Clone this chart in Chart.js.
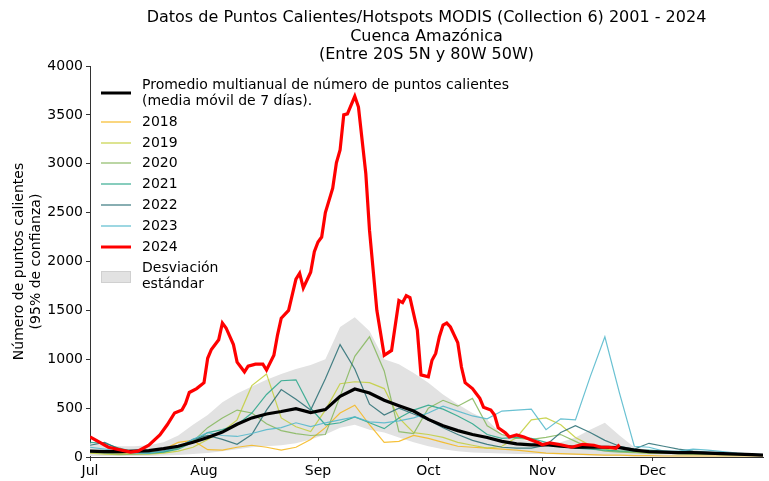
<!DOCTYPE html>
<html>
<head>
<meta charset="utf-8">
<script src="https://cdn.jsdelivr.net/npm/chart.js@4.4.1/dist/chart.umd.min.js"></script>
<style>
  html, body { margin: 0; padding: 0; background: #fff; }
  #wrap { width: 769px; height: 481px; }
</style>
</head>
<body>
<div id="wrap"><canvas id="chart" width="769" height="481"></canvas></div>
<script>
// days counted from 1 July
const monthDays = [0, 31, 62, 92, 123, 153];
const monthLabels = ['Jul', 'Aug', 'Sep', 'Oct', 'Nov', 'Dec'];

const dayGrid = [0, 4, 8, 12, 16, 20, 24, 28, 32, 36, 40, 44, 48, 52, 56, 60, 64, 68, 72, 76, 80, 84, 88, 92,
  96, 100, 104, 108, 112, 116, 120, 124, 128, 132, 136, 140, 144, 148, 152, 156, 160, 164, 168, 172, 176, 180, 183];

const meanHot = [60, 55, 55, 60, 65, 85, 110, 150, 200, 255, 335, 400, 440, 465, 495, 455, 485, 620, 695, 655, 580, 525, 470, 385,
  320, 270, 230, 200, 160, 135, 125, 125, 110, 100, 100, 100, 95, 70, 55, 50, 45, 45, 40, 35, 30, 25, 20];
const sdUpper = [140, 120, 110, 110, 120, 150, 220, 330, 430, 560, 650, 720, 790, 850, 900, 940, 1000, 1330, 1430, 1290, 1000, 950, 860, 760,
  640, 540, 450, 380, 230, 180, 160, 150, 150, 200, 280, 350, 220, 100, 70, 60, 50, 50, 45, 40, 35, 30, 25];
const sdLower = [10, 10, 10, 10, 10, 15, 20, 30, 40, 60, 80, 100, 110, 120, 140, 180, 230, 300, 330, 280, 250, 200, 150, 110,
  80, 60, 45, 40, 35, 30, 30, 30, 25, 20, 15, 10, 10, 5, 5, 5, 5, 5, 5, 5, 5, 5, 5];

const hot2018 = [60, 50, 40, 40, 50, 80, 150, 170, 75, 70, 100, 120, 100, 70, 100, 180, 300, 450, 530, 330, 150, 160, 220, 190,
  150, 110, 100, 90, 80, 70, 55, 40, 35, 30, 25, 20, 20, 15, 15, 10, 10, 10, 10, 10, 10, 10, 10];
const hot2019 = [40, 30, 25, 30, 30, 40, 60, 100, 180, 260, 380, 730, 850, 400, 310, 260, 480, 750, 770, 760, 700, 400, 250, 230,
  200, 150, 120, 90, 110, 200, 380, 400, 330, 200, 120, 80, 60, 50, 40, 40, 35, 30, 30, 25, 25, 20, 20];
const hot2020 = [50, 40, 30, 30, 35, 50, 90, 160, 300, 400, 480, 450, 340, 270, 240, 220, 230, 620, 1030, 1230, 880, 260, 240, 500,
  580, 520, 600, 320, 230, 190, 180, 200, 230, 160, 90, 60, 50, 45, 40, 40, 35, 30, 30, 25, 25, 20, 20];
const hot2021 = [150, 140, 90, 50, 40, 50, 80, 150, 250, 280, 330, 450, 640, 780, 790, 500, 330, 350, 410, 350, 290, 400, 480, 530,
  490, 420, 340, 230, 190, 200, 190, 150, 110, 90, 80, 70, 60, 60, 70, 60, 50, 40, 35, 30, 30, 25, 20];
const hot2022 = [120, 150, 80, 50, 45, 60, 100, 180, 220, 180, 130, 230, 480, 690, 590, 480, 800, 1150, 900, 540, 430, 500, 440, 380,
  300, 230, 170, 130, 100, 90, 90, 120, 250, 320, 250, 170, 110, 80, 140, 110, 80, 60, 50, 40, 30, 25, 20];
const hot2023 = [100, 80, 60, 40, 40, 60, 100, 180, 250, 220, 210, 240, 280, 300, 350, 310, 350, 380, 410, 360, 350, 370, 400, 450,
  520, 470, 420, 390, 470, 480, 490, 280, 390, 380, 820, 1230, 650, 110, 100, 60, 60, 80, 70, 55, 40, 30, 25];

const days2024 = [0, 5, 11, 13, 16, 19, 21, 23, 25, 26, 27, 29, 31, 32, 33, 35, 36, 37, 39, 40, 41, 42, 43, 45, 47, 48, 50, 51, 52,
  54, 56, 57, 58, 60, 61, 62, 63, 64, 66, 67, 68, 69, 70, 72, 73, 75, 76, 78, 80, 82, 84, 85, 86, 87, 89, 90, 92, 93, 94, 95, 96,
  97, 98, 100, 101, 102, 104, 105, 106, 107, 109, 110, 111, 113, 114, 116, 118, 120, 122, 123, 125, 128, 131, 134, 137, 139, 141, 143, 144];
const hot2024 = [205, 100, 50, 60, 120, 225, 330, 450, 480, 550, 660, 700, 760, 1010, 1100, 1200, 1370, 1320, 1150, 970, 920, 870, 930, 950, 950, 890, 1040, 1250, 1420,
  1500, 1820, 1880, 1730, 1890, 2100, 2200, 2250, 2500, 2750, 3010, 3140, 3500, 3510, 3690, 3580, 2900, 2320, 1500, 1040, 1090, 1600, 1580, 1650, 1630, 1300, 840, 820, 990, 1060, 1230, 1350,
  1370, 1330, 1170, 920, 760, 700, 650, 600, 510, 480, 430, 300, 245, 205, 225, 205, 175, 145, 125, 145, 125, 100, 130, 120, 100, 100, 90, 125];

const years = ['2018', '2019', '2020', '2021', '2022', '2023'];
const yearSeries = [hot2018, hot2019, hot2020, hot2021, hot2022, hot2023];
const yearColors = ['#f5b71c', '#c3cf3c', '#86b75e', '#2aa68a', '#2b6f75', '#52b8cb'];

const pts = (xs, ys) => xs.map((d, i) => ({ x: d, y: ys[i] }));
const FONT = 'DejaVu Sans';

const datasets = [
  { label: '2024', data: pts(days2024, hot2024), borderColor: '#ff0000', borderWidth: 3.2, order: 0 },
  { label: 'mean', data: pts(dayGrid, meanHot), borderColor: '#000000', borderWidth: 3.2, order: 1 }
];
years.forEach((y, i) => {
  datasets.push({ label: y, data: pts(dayGrid, yearSeries[i]), borderColor: yearColors[i] + 'dd', borderWidth: 1.2, order: 8 - i });
});
datasets.push({ label: 'sdUp', data: pts(dayGrid, sdUpper), borderWidth: 0, borderColor: 'rgba(0,0,0,0)', backgroundColor: '#e2e2e2', fill: '+1', order: 20 });
datasets.push({ label: 'sdLow', data: pts(dayGrid, sdLower), borderWidth: 0, borderColor: 'rgba(0,0,0,0)', fill: false, order: 21 });

const decor = {
  id: 'decor',
  afterDraw(chart) {
    const c = chart.ctx;
    const area = chart.chartArea;
    c.save();
    c.fillStyle = '#000';
    c.textBaseline = 'middle';
    // title
    c.textAlign = 'center';
    c.font = '16px ' + FONT;
    const cx = (area.left + area.right) / 2;
    c.fillText('Datos de Puntos Calientes/Hotspots MODIS (Collection 6) 2001 - 2024', cx, 18);
    c.fillText('Cuenca Amazónica', cx, 37);
    c.fillText('(Entre 20S 5N y 80W 50W)', cx, 55);
    // y axis title
    c.save();
    c.translate(19, (area.top + area.bottom) / 2);
    c.rotate(-Math.PI / 2);
    c.font = '14px ' + FONT;
    c.fillText('Número de puntos calientes', 0, 0);
    c.fillText('(95% de confianza)', 0, 17);
    c.restore();
    // legend
    c.textAlign = 'left';
    c.font = '14px ' + FONT;
    const lx0 = 101, lx1 = 131, tx = 142;
    const seg = (y, col, w) => {
      c.beginPath(); c.strokeStyle = col; c.lineWidth = w;
      c.moveTo(lx0, y); c.lineTo(lx1, y); c.stroke();
    };
    seg(93, '#000', 3);
    c.fillText('Promedio multianual de número de puntos calientes', tx, 85);
    c.fillText('(media móvil de 7 días).', tx, 101);
    const rows = [122, 143, 163, 184, 205, 226];
    years.forEach((y, i) => {
      c.globalAlpha = 0.75;
      seg(rows[i], yearColors[i], 1.5);
      c.globalAlpha = 1;
      c.fillText(y, tx, rows[i]);
    });
    seg(247, '#ff0000', 3);
    c.fillText('2024', tx, 247);
    c.fillStyle = '#e2e2e2';
    c.fillRect(lx0, 271, lx1 - lx0, 12);
    c.strokeStyle = '#d0d0d0'; c.lineWidth = 1;
    c.strokeRect(lx0 + 0.5, 271.5, lx1 - lx0 - 1, 11);
    c.fillStyle = '#000';
    c.fillText('Desviación', tx, 268);
    c.fillText('estándar', tx, 284);
    c.restore();
  }
};

new Chart(document.getElementById('chart'), {
  type: 'line',
  data: { datasets: datasets },
  options: {
    responsive: false,
    animation: false,
    elements: { point: { radius: 0 }, line: { tension: 0 } },
    layout: { padding: { top: 66, right: 6, left: 0, bottom: 0 } },
    plugins: { legend: { display: false }, title: { display: false }, tooltip: { enabled: false } },
    scales: {
      x: {
        type: 'linear', min: 0, max: 183,
        afterBuildTicks: axis => { axis.ticks = monthDays.map(v => ({ value: v })); },
        afterFit: s => { s.height = 24; },
        ticks: {
          callback: v => monthLabels[monthDays.indexOf(v)],
          autoSkip: false, maxRotation: 0, padding: 2, color: '#000',
          font: { family: FONT, size: 14 }
        },
        grid: { drawOnChartArea: false, tickLength: 4, color: '#333' },
        border: { color: '#333', width: 1 }
      },
      y: {
        min: 0, max: 4000,
        afterFit: s => { s.width = 90; },
        ticks: { stepSize: 500, padding: 3, color: '#000', callback: v => String(v), font: { family: FONT, size: 14 } },
        grid: { drawOnChartArea: false, tickLength: 4, color: '#333' },
        border: { color: '#333', width: 1 }
      }
    }
  },
  plugins: [decor]
});
</script>
</body>
</html>
